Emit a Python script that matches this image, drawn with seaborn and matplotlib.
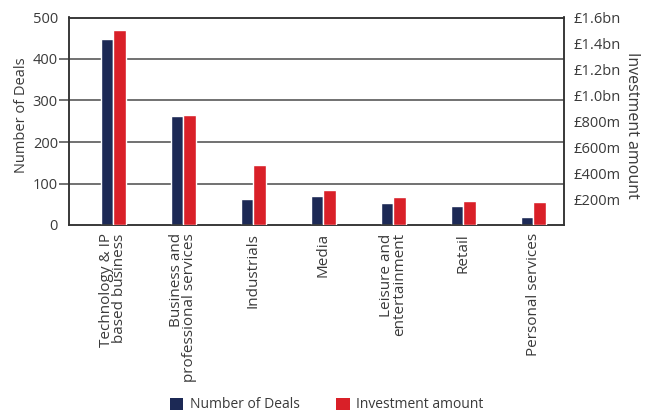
import matplotlib
matplotlib.use("Agg")
import matplotlib.pyplot as plt
import seaborn as sns
import pandas as pd
from matplotlib.patches import Patch

# Sector breakdown: deal counts and amount invested (£m)
sectors = [
    "Technology & IP\nbased business",
    "Business and\nprofessional services",
    "Industrials",
    "Media",
    "Leisure and\nentertainment",
    "Retail",
    "Personal services",
]
deals = [448, 263, 63, 70, 53, 46, 20]
investment_m = [1500, 850, 465, 270, 215, 185, 175]

series_names = ["Number of Deals", "Investment amount"]
colors = {"Number of Deals": "#1c2955", "Investment amount": "#d92028"}

right_ticks = [200, 400, 600, 800, 1000, 1200, 1400, 1600]
right_labels = ["£200m", "£400m", "£600m", "£800m", "£1.0bn", "£1.2bn", "£1.4bn", "£1.6bn"]

deals_df = pd.DataFrame({"sector": sectors, "value": deals, "series": series_names[0]})
inv_df = pd.DataFrame({"sector": sectors, "value": investment_m, "series": series_names[1]})

sns.set_theme(style="white")
plt.rcParams["font.family"] = ["Open Sans", "DejaVu Sans"]
text_color = "#3a3a3a"

fig = plt.figure(figsize=(6.47, 4.16), dpi=100)
ax = fig.add_axes([69 / 647, 1 - 225 / 416, 495 / 647, 207.5 / 416])
ax2 = ax.twinx()

# Deals on the left scale, investment on the right, dodged side by side
sns.barplot(data=deals_df, x="sector", y="value", hue="series", hue_order=series_names,
            palette=colors, order=sectors, width=0.36, gap=0, dodge=True,
            saturation=1, legend=False, ax=ax, zorder=3)
sns.barplot(data=inv_df, x="sector", y="value", hue="series", hue_order=series_names,
            palette=colors, order=sectors, width=0.36, gap=0, dodge=True,
            saturation=1, legend=False, ax=ax2, zorder=3)

ax.set_xlim(-0.63, 6.44)
ax.set_ylim(0, 500)
ax.set_yticks([0, 100, 200, 300, 400, 500])
ax2.set_ylim(0, 1600)
ax2.set_yticks(right_ticks)
ax2.set_yticklabels(right_labels)

# Horizontal rules at each left-axis step
for v in [100, 200, 300, 400]:
    ax.axhline(v, color="#4a4a4a", lw=1.1, zorder=1)

for a in (ax, ax2):
    for s in a.spines.values():
        s.set_visible(True)
        s.set_color("#333333")
        s.set_linewidth(1.1)

ax.tick_params(axis="y", left=True, length=7, width=1.1, color="#4a4a4a", pad=1,
               labelsize=10.5, labelcolor=text_color)
ticks = ax.yaxis.get_major_ticks()
ticks[0].tick1line.set_visible(False)
ticks[-1].tick1line.set_visible(False)
ax2.tick_params(axis="y", right=False, length=0, pad=7, labelsize=10.5, labelcolor=text_color)

ax.tick_params(axis="x", length=0, pad=6, labelsize=11, labelcolor=text_color)
for lbl in ax.get_xticklabels():
    lbl.set_rotation(90)
    lbl.set_ha("center")
    lbl.set_va("top")
    lbl.set_multialignment("right")
    lbl.set_linespacing(0.82)

ax.set_xlabel("")
ax.set_ylabel("Number of Deals", fontsize=10.5, color=text_color)
ax.yaxis.set_label_coords(-40 / 495, 0.53)
ax2.set_ylabel("Investment amount", fontsize=11.5, color=text_color, rotation=270,
               va="center")
ax2.yaxis.set_label_coords(1 + 68 / 495, 0.48)

handles = [Patch(facecolor=colors[n], edgecolor="none") for n in series_names]
fig.legend(handles, series_names, loc="center", bbox_to_anchor=(327 / 647, 1 - 405 / 416),
           ncol=2, frameon=False, fontsize=10, handlelength=0.95, handleheight=0.95,
           handletextpad=0.5, columnspacing=2.6, labelcolor=text_color)

fig.savefig("out.png", dpi=100)
